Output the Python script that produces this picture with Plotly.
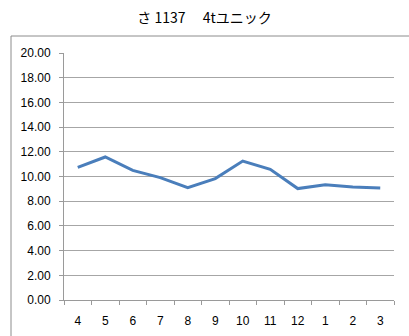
import plotly.graph_objects as go

# Monthly values (fiscal year April -> March)
months = ["4", "5", "6", "7", "8", "9", "10", "11", "12", "1", "2", "3"]
values = [10.74, 11.58, 10.50, 9.91, 9.10, 9.83, 11.25, 10.58, 9.02, 9.34, 9.15, 9.07]
y_ticks = [0, 2, 4, 6, 8, 10, 12, 14, 16, 18, 20]
title_text = "さ 1137　 4tユニック"

fig = go.Figure()
fig.add_trace(go.Scatter(
    x=months, y=values, mode="lines",
    line=dict(color="#4A7EBB", width=3),
    hoverinfo="skip",
))

fig.update_layout(
    width=409, height=336,
    margin=dict(l=64, r=15, t=53, b=36, autoexpand=False),
    paper_bgcolor="white", plot_bgcolor="white",
    showlegend=False,
    font=dict(family="Liberation Sans, Arial, sans-serif", size=12, color="black"),
    title=dict(
        text=title_text, x=0.5, xanchor="center", y=1 - 18 / 336, yanchor="middle",
        automargin=False,
        font=dict(family="Noto Sans CJK JP, sans-serif", size=14, color="black"),
    ),
    xaxis=dict(
        type="category", categoryorder="array", categoryarray=months,
        range=[-0.5, len(months) - 0.5],
        showgrid=False, showline=True, linecolor="#9a9a9a", linewidth=1,
        ticks="outside", tickson="boundaries", ticklen=4, tickcolor="#9a9a9a",
        ticklabelstandoff=10, zeroline=False,
    ),
    yaxis=dict(
        range=[0, 20], tickvals=y_ticks, tickformat=".2f",
        showgrid=True, gridcolor="#a6a6a6", gridwidth=1,
        showline=True, linecolor="#9a9a9a", linewidth=1,
        ticks="outside", ticklen=4, tickcolor="#9a9a9a",
        ticklabelstandoff=6, zeroline=False,
    ),
    shapes=[dict(
        type="rect", xref="paper", yref="paper",
        x0=(11 - 64) / 330, x1=(412 - 64) / 330,
        y0=-40 / 247, y1=(300 - 36) / 247,
        line=dict(color="#8c8c8c", width=1), fillcolor="rgba(0,0,0,0)", layer="below",
    )],
)

fig.write_html("out.html")
